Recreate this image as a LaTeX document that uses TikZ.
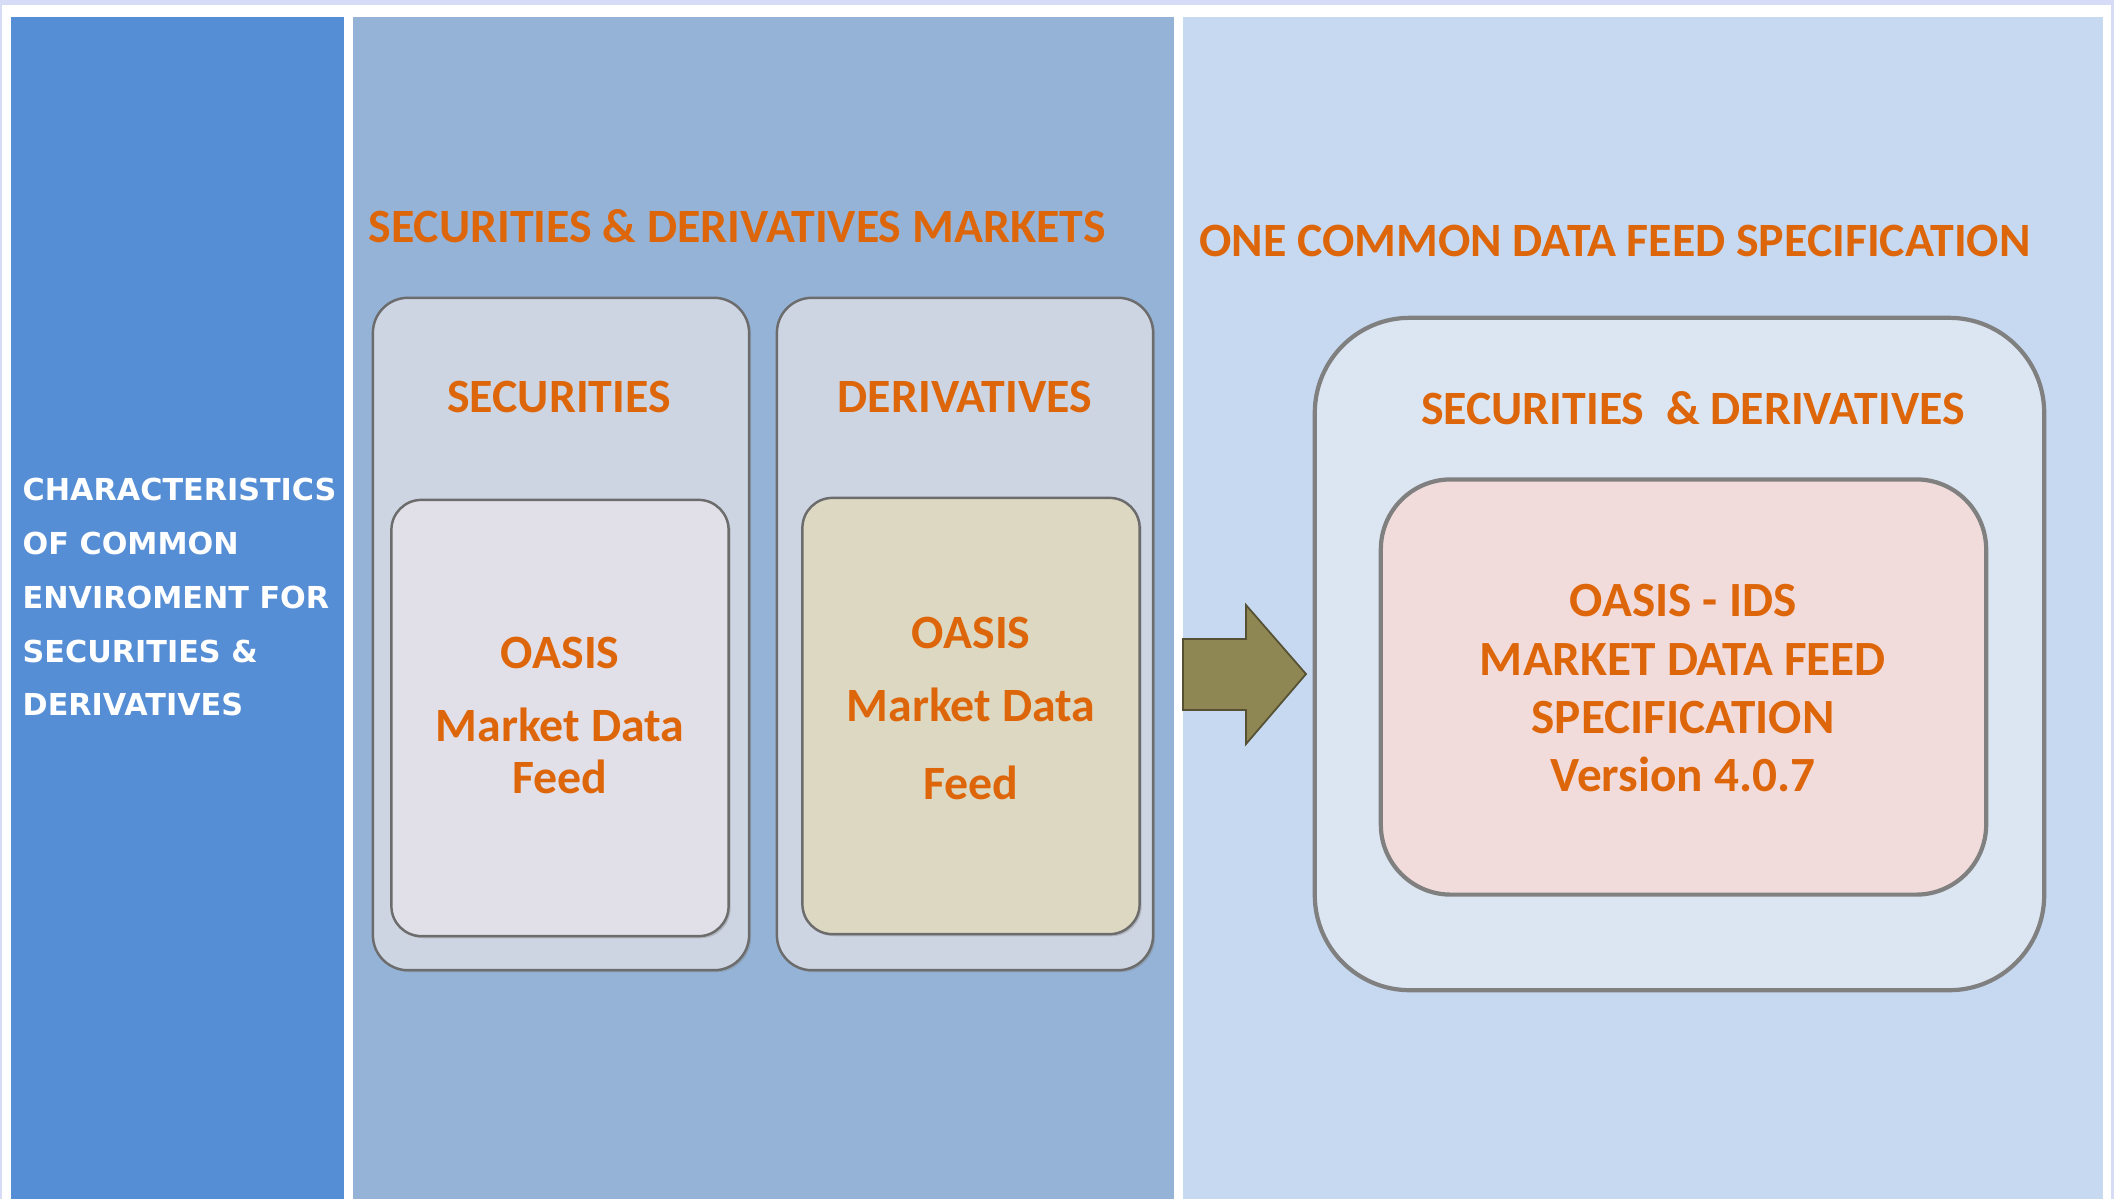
\documentclass[tikz,border=0pt]{standalone}
\usepackage{fontspec}
\setmainfont{Carlito}
\newfontfamily\sidefont{DejaVu Sans}
\usepackage{xcolor}
\usepackage{tikz}
\usetikzlibrary{shadows}

\definecolor{panelLeft}{RGB}{85,142,213}
\definecolor{panelMid}{RGB}{149,179,215}
\definecolor{panelRight}{RGB}{198,217,241}
\definecolor{marketGrey}{RGB}{205,213,227}
\definecolor{secFill}{RGB}{225,223,232}
\definecolor{derFill}{RGB}{221,216,194}
\definecolor{specOuter}{RGB}{220,230,242}
\definecolor{specInner}{RGB}{242,220,219}
\definecolor{oasisOrange}{RGB}{222,102,10}
\definecolor{arrowOlive}{RGB}{142,135,84}
\definecolor{patternBg}{RGB}{214,220,246}

\tikzset{
  marketbox/.style={rectangle, rounded corners=0.35cm, draw=gray!85!black, line width=0.7pt, fill=marketGrey, minimum width=3.76cm, minimum height=6.72cm, drop shadow={shadow xshift=0.6pt, shadow yshift=-0.6pt, opacity=0.35}},
  feedbox/.style={rectangle, rounded corners=0.3cm, draw=gray!85!black, line width=0.7pt, minimum width=3.37cm, minimum height=4.36cm, drop shadow={shadow xshift=0.6pt, shadow yshift=-0.6pt, opacity=0.35}},
  specbox/.style={rectangle, draw=gray, line width=1.2pt},
  headtext/.style={anchor=base, inner sep=0, text=oasisOrange, font=\fontsize{13.6}{16}\selectfont\bfseries},
  boxtext/.style={anchor=base, inner sep=0, text=oasisOrange, font=\fontsize{13.6}{16}\selectfont\bfseries},
  spectext/.style={anchor=base, inner sep=0, text=oasisOrange, font=\fontsize{14}{17}\selectfont\bfseries},
  sideline/.style={anchor=base west, inner sep=0, text=white, font=\sidefont\fontsize{8.6}{10}\selectfont\bfseries}
}

\begin{document}
\begin{tikzpicture}[x=0.01cm, y=-0.01cm]
\useasboundingbox (0,0) rectangle (2114,1199);
% background and the three panels
\fill[patternBg] (0,0) rectangle (2114,1199);
\fill[white] (2,5) rectangle (2111,1199);
\fill[panelLeft] (11,17) rectangle (344,1199);
\fill[panelMid] (353,17) rectangle (1174,1199);
\fill[panelRight] (1183,17) rectangle (2103,1199);

% left column text
\foreach \ln/\yy [count=\i] in {CHARACTERISTICS/500, OF COMMON/554, ENVIROMENT FOR/608, SECURITIES \&/662, DERIVATIVES/715}
  \node[sideline] (side\i) at (22,\yy) {\ln};

% markets
\node[headtext] (mktTitle) at (737,242) {SECURITIES \& DERIVATIVES MARKETS};
\node[marketbox] (secBox) at (561,634) {};
\node[marketbox] (derBox) at (965,634) {};
\node[feedbox, fill=secFill] (secFeed) at (560,718) {};
\node[feedbox, fill=derFill] (derFeed) at (971,716) {};
\node[boxtext] (secTitle) at (559,412) {SECURITIES};
\node[boxtext] (derTitle) at (965,412) {DERIVATIVES};
\node[boxtext] (secOasis) at (560,668) {OASIS};
\node[boxtext] (secMarket) at (560,741) {Market Data};
\node[boxtext] (secFeedTxt) at (560,793) {Feed};
\node[boxtext] (derOasis) at (971,648) {OASIS};
\node[boxtext] (derMarket) at (971,721) {Market Data};
\node[boxtext] (derFeedTxt) at (971,799) {Feed};

% arrow
\filldraw[fill=arrowOlive, draw=arrowOlive!60!black, line width=0.5pt] (1183,639) -- (1246,639) -- (1246,605) -- (1306,674) -- (1246,744) -- (1246,710) -- (1183,710) -- cycle;

% common specification
\node[headtext] (specTitle) at (1615,256) {ONE COMMON DATA FEED SPECIFICATION};
\node[specbox, rounded corners=0.95cm, fill=specOuter, minimum width=7.29cm, minimum height=6.72cm] (specOut) at (1679.5,654) {};
\node[specbox, rounded corners=0.7cm, fill=specInner, minimum width=6.05cm, minimum height=4.15cm] (specIn) at (1683.5,687) {};
\node[boxtext] (bothTitle) at (1693,424) {SECURITIES \ \& DERIVATIVES};
\node[spectext] (idsLine) at (1683,616) {OASIS - IDS};
\node[spectext] (mdfLine) at (1683,675) {MARKET DATA FEED};
\node[spectext] (specLine) at (1683,733) {SPECIFICATION};
\node[spectext] (verLine) at (1683,791) {Version 4.0.7};
\end{tikzpicture}
\end{document}
